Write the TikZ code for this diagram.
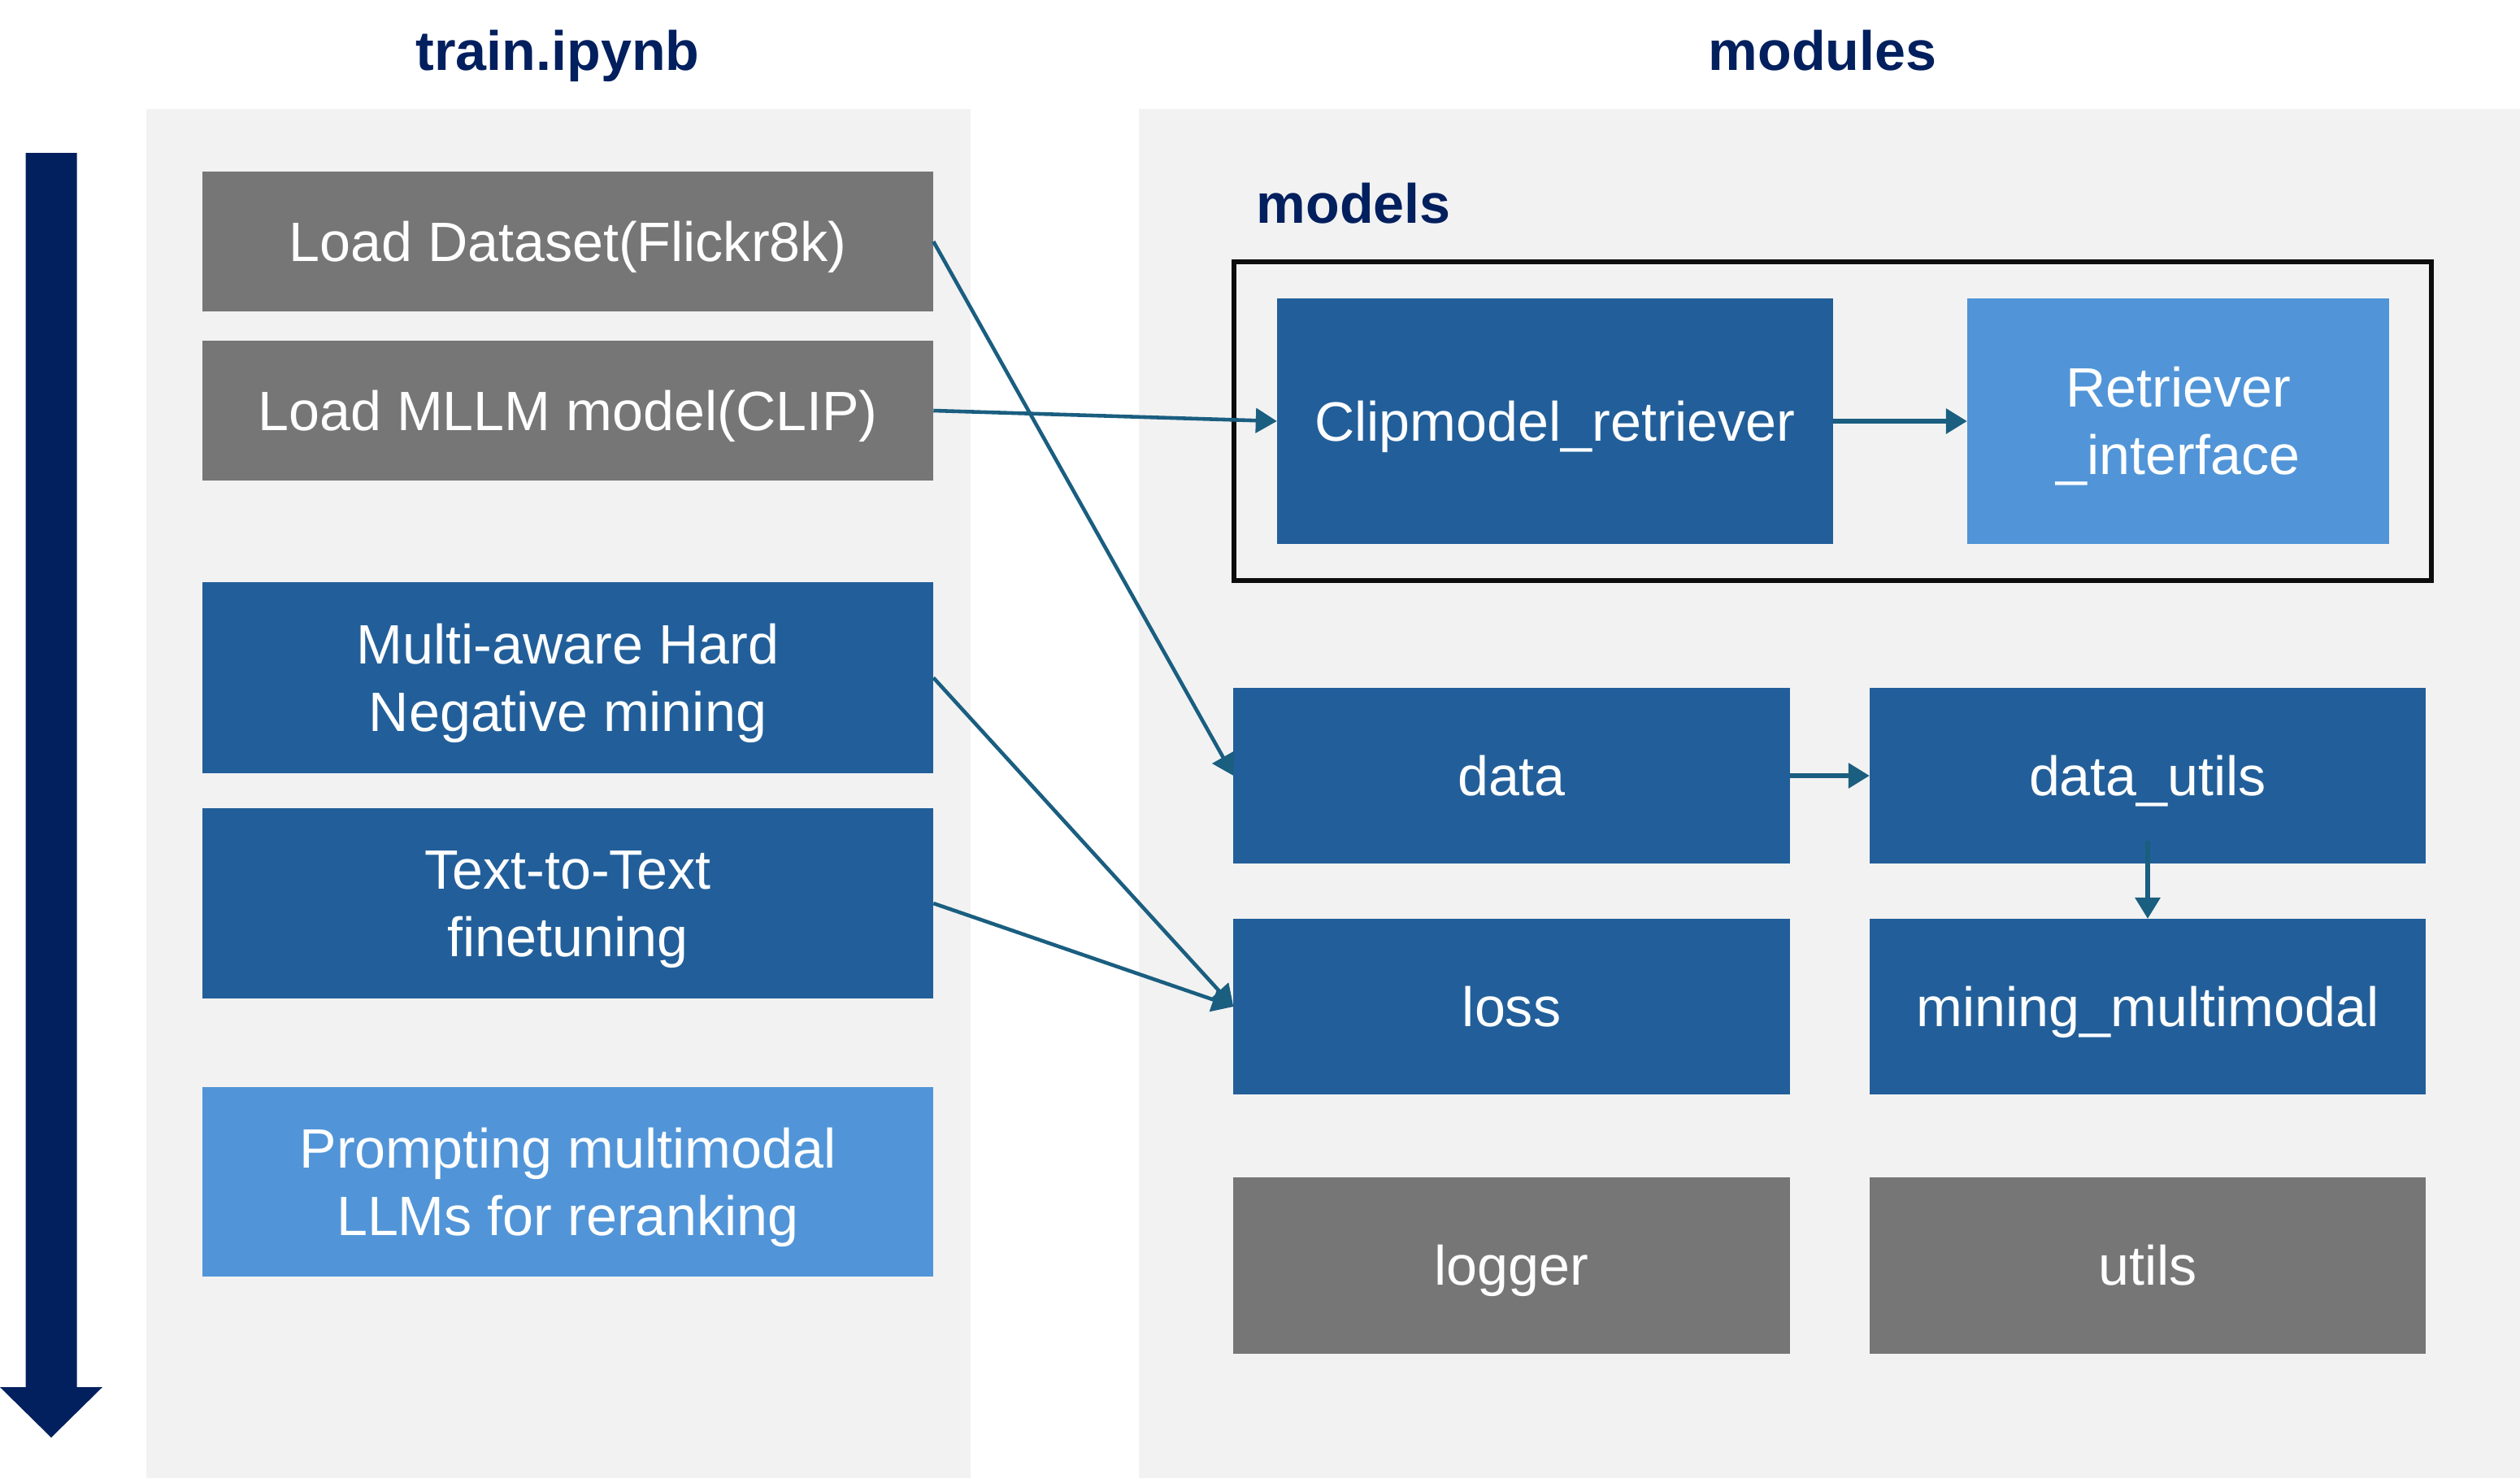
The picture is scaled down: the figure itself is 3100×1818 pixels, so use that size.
\documentclass[tikz,border=0pt]{standalone}
\usepackage{fontspec}
\setmainfont{Liberation Sans}
\usetikzlibrary{arrows.meta}
\definecolor{panelgray}{RGB}{242,242,242}
\definecolor{boxgray}{RGB}{118,118,118}
\definecolor{darkblue}{RGB}{34,95,154}
\definecolor{lightblue}{RGB}{81,149,216}
\definecolor{navy}{RGB}{2,31,94}
\definecolor{linkblue}{RGB}{26,94,128}

\begin{document}
\begin{tikzpicture}[x=0.01cm, y=-0.01cm, >={Triangle[length=0.26cm,width=0.3cm]}]
\useasboundingbox (0,0) rectangle (3100,1818);
\tikzstyle{every node} = [font=\fontsize{19.4}{23.6}\selectfont]
\tikzstyle{box} = [rectangle, inner sep=0, outer sep=0, text=white, align=center, text height=13.9pt, text depth=0pt]
\tikzstyle{two lines} = [text height=37.5pt]
\tikzstyle{gray box} = [box, fill=boxgray]
\tikzstyle{dark box} = [box, fill=darkblue]
\tikzstyle{light box} = [box, fill=lightblue]
\tikzstyle{step box} = [minimum width=8.99cm]
\tikzstyle{module box} = [minimum width=6.84cm, minimum height=2.16cm]
\tikzstyle{title} = [text=navy, font=\fontsize{19.4}{23.6}\selectfont\bfseries]
\tikzstyle{link} = [->, draw=linkblue, line width=1.3pt]
\fill[panelgray] (180,134) rectangle (1194,1818);
\fill[panelgray] (1401,134) rectangle (3100,1818);
\fill[navy] (31.5,188) -- (94.5,188) -- (94.5,1706) -- (126,1706) -- (63,1768) -- (0,1706) -- (31.5,1706) -- cycle;
\node[title, anchor=base] (nb) at (686,87) {train.ipynb};
\node[title, anchor=base] (mod) at (2242,87) {modules};
\node[title, anchor=base west, inner sep=0] (mdl) at (1545,274) {models};
\draw[line width=1.7pt, black!95] (1518,322) rectangle (2991,714);
\node[gray box, step box, minimum height=1.72cm] (ds) at (698.5,297) {Load Dataset(Flickr8k)};
\node[gray box, step box, minimum height=1.72cm] (mllm) at (698.5,505) {Load MLLM model(CLIP)};
\node[dark box, step box, two lines, minimum height=2.35cm] (hard) at (698.5,833.5) {Multi-aware Hard\\Negative mining};
\node[dark box, step box, two lines, minimum height=2.34cm] (t2t) at (698.5,1111) {Text-to-Text\\finetuning};
\node[light box, step box, two lines, minimum height=2.33cm] (prompt) at (698.5,1453.5) {Prompting multimodal\\LLMs for reranking};
\node[dark box, minimum width=6.84cm, minimum height=3.02cm] (clip) at (1913,518) {Clipmodel\_retriever};
\node[light box, two lines, minimum width=5.19cm, minimum height=3.02cm] (retr) at (2679.5,518) {Retriever\\\_interface};
\node[dark box, module box] (data) at (1859.5,954) {data};
\node[dark box, module box] (du) at (2642,954) {data\_utils};
\node[dark box, module box] (loss) at (1859.5,1238) {loss};
\node[dark box, module box] (mm) at (2642,1238) {mining\_multimodal};
\node[gray box, module box] (log) at (1859.5,1556.5) {logger};
\node[gray box, module box] (ut) at (2642,1556.5) {utils};
\draw[link] (ds.east) -- (data.west);
\draw[link] (mllm.east) -- (clip.west);
\draw[link] (hard.east) -- (loss.west);
\draw[link] (t2t.east) -- (loss.west);
\draw[link, line width=1.7pt] (clip.east) -- (retr.west);
\draw[link, line width=1.7pt] (data.east) -- (du.west);
\draw[link, line width=1.7pt] ([yshift=0.28cm]du.south) -- (mm.north);
\end{tikzpicture}
\end{document}
